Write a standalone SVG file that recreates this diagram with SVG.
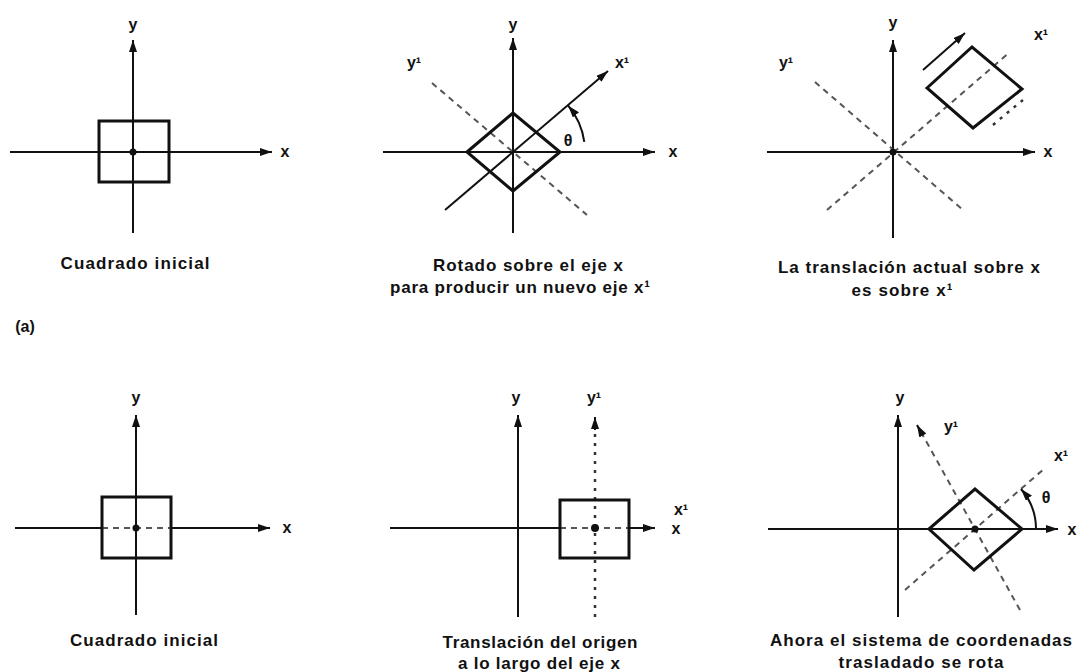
<svg xmlns="http://www.w3.org/2000/svg" width="1080" height="672" viewBox="0 0 1080 672">
<style>
.ax{stroke:#111;stroke-width:2;fill:none}
.sq{stroke:#111;stroke-width:3;fill:none;stroke-linejoin:miter}
.ds{stroke:#555;stroke-width:2;fill:none;stroke-dasharray:6 5}
.dt{stroke:#333;stroke-width:2.5;fill:none;stroke-dasharray:3 6}
.lbl{font-family:"Liberation Sans",Arial,sans-serif;font-weight:bold;font-size:17px;fill:#111;text-anchor:middle}
.al{font-family:"Liberation Sans",Arial,sans-serif;font-weight:bold;font-size:16px;fill:#111;text-anchor:middle}
.dot{fill:#111}
</style>
<defs>
<marker id="ah" viewBox="0 0 12 8" refX="12" refY="4" markerWidth="12" markerHeight="8" markerUnits="userSpaceOnUse" orient="auto">
<path d="M0,0 L12,4 L0,8 z" fill="#111"/>
</marker>
</defs>
<rect width="1080" height="672" fill="#fff"/>

<g id="panel1">
<line class="ax" x1="10" y1="152" x2="272" y2="152" marker-end="url(#ah)"/>
<line class="ax" x1="133" y1="233" x2="133" y2="40" marker-end="url(#ah)"/>
<rect class="sq" x="99" y="121" width="70" height="61"/>
<circle class="dot" cx="133" cy="152" r="3.5"/>
<text class="al" x="133" y="30">y</text>
<text class="al" x="285" y="157">x</text>
<text class="lbl" x="135" y="269" textLength="149">Cuadrado inicial</text>
</g>

<g id="panel2">
<line class="ax" x1="383" y1="152" x2="655" y2="152" marker-end="url(#ah)"/>
<line class="ax" x1="513" y1="233" x2="513" y2="38" marker-end="url(#ah)"/>
<line class="ds" x1="432" y1="83" x2="587" y2="215"/>
<line class="ax" x1="445" y1="210" x2="608" y2="71" marker-end="url(#ah)"/>
<polygon class="sq" points="467,152 513,113 560,152 513,191"/>
<path class="ax" d="M584.3,141.9 A72,72 0 0 0 568.2,105.7" marker-end="url(#ah)"/>
<text class="al" x="568" y="146">θ</text>
<text class="al" x="513" y="30">y</text>
<text class="al" x="673" y="157">x</text>
<text class="al" x="622" y="68">x¹</text>
<text class="al" x="414" y="68">y¹</text>
<text class="lbl" x="528" y="271" textLength="190">Rotado sobre el eje x</text>
<text class="lbl" x="520" y="293" textLength="260">para producir un nuevo eje x¹</text>
</g>

<g id="panel3">
<line class="ax" x1="767" y1="152" x2="1035" y2="152" marker-end="url(#ah)"/>
<line class="ax" x1="893" y1="238" x2="893" y2="40" marker-end="url(#ah)"/>
<line class="ds" x1="815" y1="82" x2="963" y2="210"/>
<line class="ds" x1="827" y1="210" x2="1010" y2="52"/>
<circle class="dot" cx="893" cy="152" r="3.5"/>
<polygon class="sq" points="927,88 972,47 1022,89 973,128"/>
<line class="ax" x1="923" y1="70" x2="965" y2="33" marker-end="url(#ah)"/>
<path class="dt" d="M993,125 Q1008,112 1023,100"/>
<text class="al" x="893" y="28">y</text>
<text class="al" x="1048" y="157">x</text>
<text class="al" x="786" y="68">y¹</text>
<text class="al" x="1041" y="40">x¹</text>
<text class="lbl" x="909" y="273" textLength="262">La translación actual sobre x</text>
<text class="lbl" x="902" y="296" textLength="101">es sobre x¹</text>
</g>

<g id="label-a">
<text class="al" x="25" y="332">(a)</text>
</g>

<g id="panel4">
<line class="ax" x1="15" y1="528" x2="102" y2="528"/>
<line class="ds" x1="102" y1="528" x2="171" y2="528"/>
<line class="ax" x1="171" y1="528" x2="270" y2="528" marker-end="url(#ah)"/>
<line class="ax" x1="136" y1="615" x2="136" y2="415" marker-end="url(#ah)"/>
<rect class="sq" x="102" y="497" width="69" height="61"/>
<circle class="dot" cx="136" cy="528" r="3.5"/>
<text class="al" x="136" y="403">y</text>
<text class="al" x="287" y="533">x</text>
<text class="lbl" x="144" y="646" textLength="148">Cuadrado inicial</text>
</g>

<g id="panel5">
<line class="ax" x1="390" y1="528" x2="560" y2="528"/>
<line class="ds" x1="560" y1="528" x2="629" y2="528"/>
<line class="ax" x1="629" y1="528" x2="655" y2="528" marker-end="url(#ah)"/>
<line class="ax" x1="518" y1="617" x2="518" y2="415" marker-end="url(#ah)"/>
<line class="dt" x1="595" y1="617" x2="595" y2="425"/>
<line class="ax" x1="595" y1="430" x2="595" y2="417" marker-end="url(#ah)"/>
<rect class="sq" x="560" y="500" width="69" height="58"/>
<circle class="dot" cx="595" cy="528" r="4"/>
<text class="al" x="516" y="403">y</text>
<text class="al" x="594" y="403">y¹</text>
<text class="al" x="681" y="515">x¹</text>
<text class="al" x="676" y="534">x</text>
<text class="lbl" x="540" y="648" textLength="195">Translación del origen</text>
<text class="lbl" x="539" y="669" textLength="162">a lo largo del eje x</text>
</g>

<g id="panel6">
<line class="ax" x1="768" y1="529" x2="1058" y2="529" marker-end="url(#ah)"/>
<line class="ax" x1="898" y1="617" x2="898" y2="415" marker-end="url(#ah)"/>
<line class="ds" x1="1020" y1="610" x2="921" y2="432"/>
<line class="ax" x1="922" y1="434" x2="917" y2="425" marker-end="url(#ah)"/>
<line class="ds" x1="905" y1="590" x2="1045" y2="468"/>
<polygon class="sq" points="929,529 975,489 1022,529 974,570"/>
<circle class="dot" cx="975" cy="529" r="3.5"/>
<path class="ax" d="M1036,528 A61,61 0 0 0 1021,489" marker-end="url(#ah)"/>
<text class="al" x="1046" y="503">θ</text>
<text class="al" x="900" y="403">y</text>
<text class="al" x="951" y="432">y¹</text>
<text class="al" x="1061" y="461">x¹</text>
<text class="al" x="1072" y="535">x</text>
<text class="lbl" x="921" y="646" textLength="302">Ahora el sistema de coordenadas</text>
<text class="lbl" x="921" y="668" textLength="165">trasladado se rota</text>
</g>
</svg>
